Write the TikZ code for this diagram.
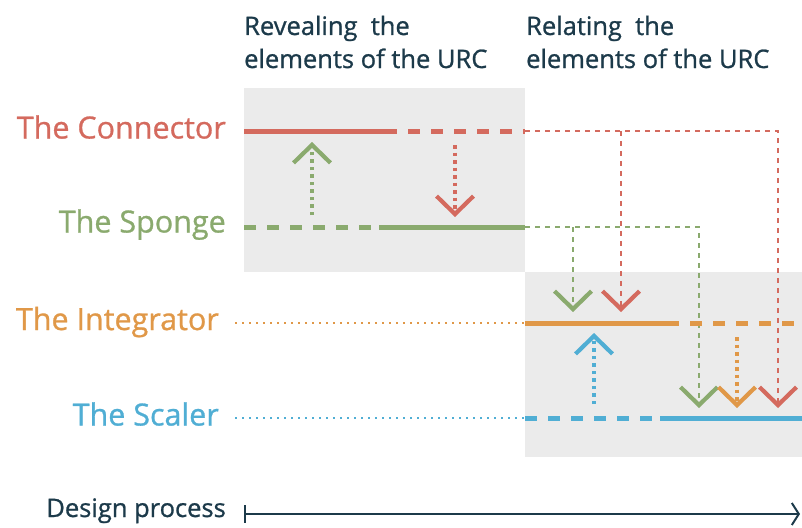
\documentclass[tikz,border=0pt]{standalone}
\usepackage{fontspec}
\setmainfont{Open Sans}[FakeBold=0.9]
\usetikzlibrary{arrows.meta}
\definecolor{cred}{HTML}{D46A5E}
\definecolor{cgreen}{HTML}{8AAA6E}
\definecolor{corange}{HTML}{E09848}
\definecolor{cblue}{HTML}{50AED4}
\definecolor{boxgray}{HTML}{EBEBEB}
\definecolor{dark}{HTML}{1C3A4A}
\begin{document}
\begin{tikzpicture}[x=1pt,y=-1pt,
  lbl/.style={inner sep=0pt,anchor=base east,font=\fontsize{30.5}{36}\selectfont},
  head/.style={inner sep=0pt,anchor=base west,text=dark,font=\fontsize{25.5}{30}\selectfont},
  solidbar/.style={line width=5pt},
  thickdash/.style={line width=5pt,dash pattern=on 11.5pt off 11.5pt},
  thindash/.style={line width=2.5pt,dash pattern=on 5pt off 5pt},
  dotarrow/.style={line width=3.5pt,dash pattern=on 3.5pt off 4pt},
  leadin/.style={line width=1.7pt,dash pattern=on 1.7pt off 5.3pt},
  chev/.style={-{Straight Barb[length=18pt,width=37pt,line width=4.2pt]}}
]
\useasboundingbox (0,0) rectangle (802,527);
% grey phases
\fill[boxgray] (244,88) rectangle (525,272);
\fill[boxgray] (525,272) rectangle (802,457);

% headings
\node[head] (h1a) at (244,35) {Revealing\ \ the};
\node[head] (h1b) at (244,68) {elements of the URC};
\node[head] (h2a) at (526,35) {Relating\ \ the};
\node[head] (h2b) at (526,68) {elements of the URC};

% labels
\node[lbl,text=cred] (lconn) at (226,138.5) {The Connector};
\node[lbl,text=cgreen] (lspon) at (226,232.5) {The Sponge};
\node[lbl,text=corange] (linte) at (219,330) {The Integrator};
\node[lbl,text=cblue] (lscal) at (219,425.5) {The Scaler};

% coordinates
\coordinate (c0) at (244,131);
\coordinate (c1) at (385,131);
\coordinate (c2) at (525,131);
\coordinate (c3) at (778,131);
\coordinate (cb) at (621,131);
\coordinate (s0) at (244,227);
\coordinate (s1) at (379,227);
\coordinate (s2) at (525,227);
\coordinate (s3) at (699,227);
\coordinate (sb) at (573,227);
\coordinate (i0) at (235,323);
\coordinate (i1) at (525,323);
\coordinate (i2) at (667,323);
\coordinate (i3) at (802,323);
\coordinate (a0) at (235,418);
\coordinate (a1) at (525,418);
\coordinate (a2) at (660,418);
\coordinate (a3) at (802,418);

% Connector line
\draw[cred,solidbar] (c0) -- (c1);
\draw[cred,thickdash] (c1) -- (c2);
\draw[cred,thindash,chev] (c2) -- (c3) -- (778,408);
\draw[cred,thindash,chev] (cb) -- (621,312);

% Sponge line
\draw[cgreen,thickdash] (s0) -- (s1);
\draw[cgreen,solidbar] (s1) -- (s2);
\draw[cgreen,thindash,chev] (s2) -- (s3) -- (699,408);
\draw[cgreen,thindash,chev] (sb) -- (573,312);

% Integrator line
\draw[corange,leadin] (i0) -- (i1);
\draw[corange,solidbar] (i1) -- (i2);
\draw[corange,thickdash] (i2) -- (i3);
\draw[corange,dotarrow,chev] (737,337) -- (737,408);

% Scaler line
\draw[cblue,leadin] (a0) -- (a1);
\draw[cblue,thickdash] (a1) -- (a2);
\draw[cblue,solidbar] (a2) -- (a3);
\draw[cblue,dotarrow,chev] (594,404) -- (594,333);

% arrows in first phase
\draw[cgreen,dotarrow,chev] (312,215) -- (312,142);
\draw[cred,dotarrow,chev] (455,145) -- (455,217);

% design process axis
\node[inner sep=0pt,anchor=base east,text=dark,font=\fontsize{25.5}{30}\selectfont] (dp) at (226,517) {Design process};
\coordinate (x0) at (245,514);
\coordinate (x1) at (800,514);
\draw[dark,line width=1.4pt] (245,505) -- (245,523);
\draw[dark,line width=1.4pt,-{Straight Barb[length=7pt,width=22pt,line width=2pt]}] (x0) -- (x1);
\end{tikzpicture}
\end{document}
